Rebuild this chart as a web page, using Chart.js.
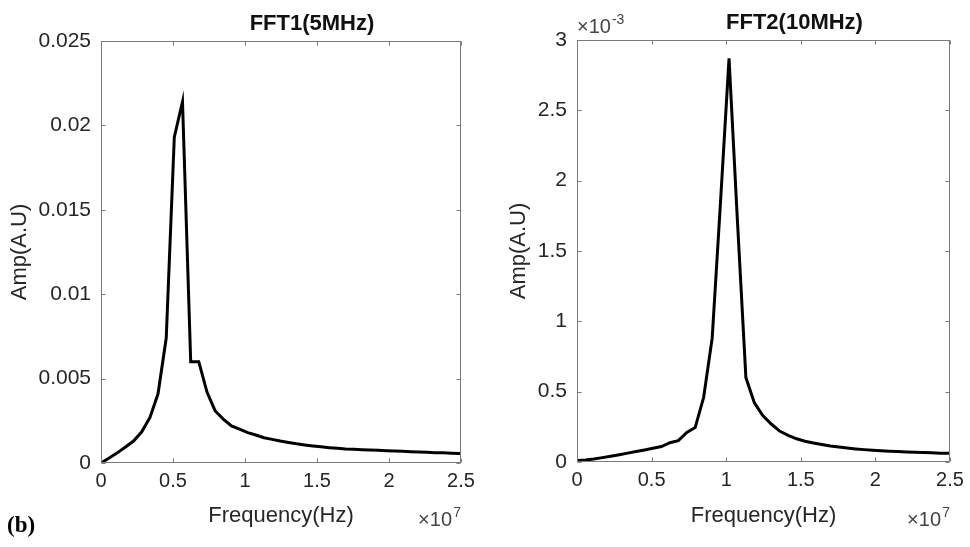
<!DOCTYPE html>
<html><head><meta charset="utf-8">
<script src="https://cdn.jsdelivr.net/npm/chart.js@4/dist/chart.umd.min.js"></script>
<style>
html,body{margin:0;padding:0;background:#fff;width:970px;height:547px;overflow:hidden;}
.wrap{position:absolute;top:0;width:485px;height:547px;}
#w1{left:0;} #w2{left:485px;}
#lab{position:absolute;left:7px;top:512px;font:bold 23px "Liberation Serif","Times New Roman",serif;color:#000;}
</style></head><body>
<div class="wrap" id="w1"><canvas id="c1" width="485" height="547"></canvas></div>
<div class="wrap" id="w2"><canvas id="c2" width="485" height="547"></canvas></div>
<div id="lab">(b)</div>
<script>
// Frequency in units of 1e7 Hz
const freqE7 = [0, 0.057, 0.113, 0.170, 0.226, 0.283, 0.340, 0.396, 0.453, 0.509,
  0.566, 0.623, 0.679, 0.736, 0.792, 0.849, 0.906, 0.962, 1.019, 1.075,
  1.132, 1.189, 1.245, 1.302, 1.358, 1.415, 1.472, 1.528, 1.585, 1.641,
  1.698, 1.755, 1.811, 1.868, 1.924, 1.981, 2.038, 2.094, 2.151, 2.207,
  2.264, 2.321, 2.377, 2.434, 2.490, 2.547];
// FFT1 (5MHz) amplitude, A.U
const fft1Amp = [0, 0.0003, 0.0006, 0.00095, 0.0013, 0.00185, 0.0027, 0.0041, 0.0074, 0.0193,
  0.0214, 0.0060, 0.0060, 0.0042, 0.0031, 0.0026, 0.0022, 0.0020, 0.0018, 0.00166,
  0.0015, 0.0014, 0.0013, 0.00122, 0.00114, 0.00107, 0.00101, 0.00096, 0.00091, 0.00087,
  0.00083, 0.00081, 0.00079, 0.00077, 0.00075, 0.00073, 0.00071, 0.00069, 0.00067, 0.00065,
  0.00063, 0.00061, 0.0006, 0.00058, 0.00057, 0.00056];
// FFT2 (10MHz) amplitude, units of 1e-3 A.U
const fft2AmpE3 = [0.01, 0.015, 0.022, 0.031, 0.041, 0.052, 0.063, 0.075, 0.086, 0.098,
  0.11, 0.137, 0.152, 0.21, 0.245, 0.46, 0.88, 1.85, 2.87, 1.72,
  0.6, 0.42, 0.33, 0.27, 0.22, 0.19, 0.165, 0.148, 0.135, 0.124,
  0.114, 0.106, 0.099, 0.093, 0.088, 0.084, 0.08, 0.077, 0.074, 0.071,
  0.069, 0.067, 0.065, 0.063, 0.062, 0.061];
const xTicks = [0, 0.5, 1, 1.5, 2, 2.5];
const y1Ticks = [0, 0.005, 0.01, 0.015, 0.02, 0.025];
const y2Ticks = [0, 0.5, 1, 1.5, 2, 2.5, 3];
const titles = ['FFT1(5MHz)', 'FFT2(10MHz)'];
const xTitle = 'Frequency(Hz)';
const yTitle = 'Amp(A.U)';

const FONT = '"Liberation Sans", Arial, sans-serif';
const TXT = '#262626';
const BOX = '#7a7a7a';

function fmt(v){ return String(+(+v).toFixed(4)); }

function decorPlugin(cfg){
  return {
    id: 'decor',
    afterDraw(chart){
      const ctx = chart.ctx, a = chart.chartArea, xs = chart.scales.x, ys = chart.scales.y;
      ctx.save();
      ctx.strokeStyle = BOX; ctx.lineWidth = 1;
      const L = Math.round(a.left)+0.5, R = Math.round(a.right)-0.5, T = Math.round(a.top)+0.5, B = Math.round(a.bottom)-0.5;
      ctx.strokeRect(L, T, R-L, B-T);
      ctx.beginPath();
      xs.ticks.forEach(t => {
        const px = Math.round(xs.getPixelForValue(t.value))+0.5;
        ctx.moveTo(px, B); ctx.lineTo(px, B-4);
        ctx.moveTo(px, T); ctx.lineTo(px, T+4);
      });
      ys.ticks.forEach(t => {
        const py = Math.round(ys.getPixelForValue(t.value))+0.5;
        ctx.moveTo(L, py); ctx.lineTo(L+4, py);
        ctx.moveTo(R, py); ctx.lineTo(R-4, py);
      });
      ctx.stroke();
      // title
      ctx.fillStyle = '#111';
      ctx.font = 'bold 22px ' + FONT;
      ctx.textAlign = 'center'; ctx.textBaseline = 'middle';
      ctx.fillText(cfg.title, (a.left + a.right)/2 + 31, cfg.titleY);
      // x exponent  x10^7
      ctx.fillStyle = '#444';
      ctx.textBaseline = 'alphabetic';
      ctx.font = '14px ' + FONT;
      ctx.textAlign = 'right';
      ctx.fillText('7', a.right, 517);
      ctx.font = '20px ' + FONT;
      ctx.fillText('\u00d710', a.right - 9, 526);
      if (cfg.yExp) {
        ctx.font = '20px ' + FONT;
        ctx.textAlign = 'left';
        const w = ctx.measureText('\u00d710').width;
        ctx.fillText('\u00d710', a.left, 33);
        ctx.font = '14px ' + FONT;
        ctx.fillText('-3', a.left + w + 1, 24);
      }
      ctx.restore();
    }
  };
}

function makeChart(id, data, yMin, yMax, yStep, yTickArr, opts){
  return new Chart(document.getElementById(id), {
    type: 'line',
    data: { datasets: [{
      data: freqE7.map((f, i) => ({x: f, y: data[i]})),
      borderColor: '#000', borderWidth: 3, pointRadius: 0, tension: 0, fill: false
    }]},
    options: {
      responsive: false, animation: false, devicePixelRatio: 1,
      layout: { padding: { left: 0, right: opts.padRight, top: opts.padTop, bottom: 0 } },
      plugins: { legend: { display: false }, tooltip: { enabled: false }, title: { display: false } },
      scales: {
        x: {
          type: 'linear', min: 0, max: 2.5,
          afterBuildTicks: s => { s.ticks = xTicks.map(v => ({value: v})); },
          afterFit: s => { s.height = opts.xH; },
          grid: { display: false, drawTicks: false },
          border: { display: false },
          ticks: { color: TXT, font: { family: FONT, size: 20 }, padding: 6, maxRotation: 0, autoSkip: false, callback: v => fmt(v) },
          title: { display: true, text: xTitle, color: TXT, font: { family: FONT, size: 22 }, padding: { top: 0, bottom: 18 } }
        },
        y: {
          type: 'linear', min: yMin, max: yMax,
          afterBuildTicks: s => { s.ticks = yTickArr.map(v => ({value: v})); },
          afterFit: s => { s.width = opts.yW; },
          grid: { display: false, drawTicks: false },
          border: { display: false },
          ticks: { color: TXT, font: { family: FONT, size: 21 }, padding: 10, autoSkip: false, callback: v => fmt(v) },
          title: { display: true, text: yTitle, color: TXT, font: { family: FONT, size: 22 }, padding: { top: opts.yTitlePad, bottom: 0 } }
        }
      }
    },
    plugins: [decorPlugin(opts)]
  });
}

makeChart('c1', fft1Amp, 0, 0.025, 0.005, y1Ticks,
  { padRight: 24, padTop: 41, xH: 84, yW: 101, yTitlePad: 7, title: titles[0], titleY: 24, yExp: false });
makeChart('c2', fft2AmpE3, 0, 3, 0.5, y2Ticks,
  { padRight: 20, padTop: 40, xH: 85, yW: 92, yTitlePad: 21, title: titles[1], titleY: 23, yExp: true });
</script>
</body></html>
